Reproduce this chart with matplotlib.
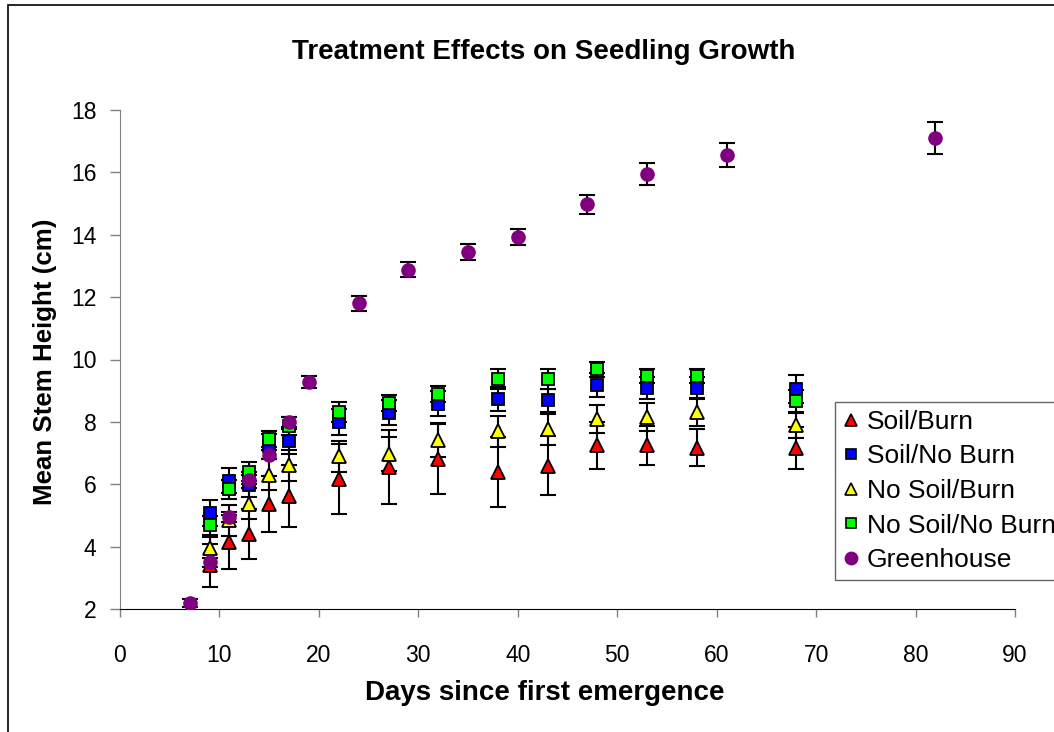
import matplotlib
matplotlib.use('Agg')
import matplotlib.pyplot as plt
from matplotlib.lines import Line2D
from matplotlib.patches import Rectangle

# ---------------- data ----------------
days_t = [9, 11, 13, 15, 17, 22, 27, 32, 38, 43, 48, 53, 58, 68]

soil_burn = [3.4, 4.15, 4.4, 5.38, 5.62, 6.18, 6.55, 6.82, 6.38, 6.6, 7.25, 7.25, 7.17, 7.17]
soil_burn_err = [0.7, 0.88, 0.8, 0.9, 1.0, 1.12, 1.18, 1.12, 1.12, 0.96, 0.75, 0.62, 0.6, 0.67]

soil_noburn = [5.07, 6.12, 5.98, 7.22, 7.38, 8.0, 8.29, 8.58, 8.74, 8.69, 9.18, 9.09, 9.09, 9.04]
soil_noburn_err = [0.42, 0.4, 0.4, 0.4, 0.4, 0.42, 0.4, 0.4, 0.38, 0.38, 0.38, 0.35, 0.35, 0.45]

nosoil_burn = [3.97, 4.85, 5.38, 6.3, 6.61, 6.89, 6.96, 7.41, 7.7, 7.76, 8.1, 8.17, 8.33, 7.89]
nosoil_burn_err = [0.35, 0.5, 0.5, 0.5, 0.5, 0.5, 0.55, 0.55, 0.5, 0.5, 0.45, 0.45, 0.45, 0.4]

nosoil_noburn = [4.68, 5.84, 6.4, 7.46, 7.87, 8.33, 8.61, 8.9, 9.39, 9.39, 9.68, 9.47, 9.47, 8.67]
nosoil_noburn_err = [0.3, 0.3, 0.3, 0.25, 0.3, 0.32, 0.25, 0.25, 0.32, 0.32, 0.23, 0.23, 0.23, 0.35]

days_g = [7, 9, 11, 13, 15, 17, 19, 24, 29, 35, 40, 47, 53, 61, 82]
greenhouse = [2.2, 3.5, 4.95, 6.15, 6.95, 8.0, 9.28, 11.8, 12.88, 13.45, 13.92, 14.97, 15.95, 16.55, 17.1]
greenhouse_err = [0.12, 0.15, 0.15, 0.15, 0.15, 0.15, 0.2, 0.25, 0.25, 0.25, 0.25, 0.3, 0.35, 0.38, 0.5]

labels = ['Soil/Burn', 'Soil/No Burn', 'No Soil/Burn', 'No Soil/No Burn', 'Greenhouse']
x_ticks = [0, 10, 20, 30, 40, 50, 60, 70, 80, 90]
y_ticks = [2, 4, 6, 8, 10, 12, 14, 16, 18]

# ---------------- figure ----------------
plt.rcParams['font.family'] = ['Liberation Sans', 'DejaVu Sans']
W, H = 1054, 732
fig = plt.figure(figsize=(W / 100, H / 100), dpi=100)
fig.patch.set_facecolor('white')

# outer chart border
fig.add_artist(Rectangle((8 / W, -0.05), 1.1, 1 - 5 / H + 0.05, transform=fig.transFigure,
                         fill=False, edgecolor='black', linewidth=1.2))

ax = fig.add_axes([120 / W, 1 - 609 / H, (1015 - 120) / W, (609 - 110) / H])

series = [
    (days_t, soil_burn, soil_burn_err, '^', 9.5, 'red', 'black'),
    (days_t, soil_noburn, soil_noburn_err, 's', 8, 'blue', 'black'),
    (days_t, nosoil_burn, nosoil_burn_err, '^', 9.5, 'yellow', 'black'),
    (days_t, nosoil_noburn, nosoil_noburn_err, 's', 8, '#00FF00', 'black'),
    (days_g, greenhouse, greenhouse_err, 'o', 9.2, '#800080', '#800080'),
]

handles = []
for i, (x, y, e, m, ms, fc, ec) in enumerate(series):
    ax.errorbar(x, y, yerr=e, fmt='none', ecolor='black', elinewidth=1.5,
                capsize=6, capthick=1.5, zorder=2 + i * 0.1)
for i, (x, y, e, m, ms, fc, ec) in enumerate(series):
    ax.plot(x, y, linestyle='none', marker=m, markersize=ms, markerfacecolor=fc,
            markeredgecolor=ec, markeredgewidth=1.3, zorder=3 + i)
    handles.append(Line2D([], [], linestyle='none', marker=m, markersize=ms * 0.95,
                          markerfacecolor=fc, markeredgecolor=ec, markeredgewidth=1.2))

ax.set_xlim(0, 90)
ax.set_ylim(2, 18)
ax.set_xticks(x_ticks)
ax.set_yticks(y_ticks)
ax.spines['top'].set_visible(False)
ax.spines['right'].set_visible(False)
ax.spines['left'].set_color('#808080')
ax.spines['bottom'].set_color('black')
ax.tick_params(axis='y', direction='out', length=7, width=1, color='#808080',
               labelsize=16.5, pad=10)
ax.tick_params(axis='x', direction='out', length=6, width=1, color='#808080',
               labelsize=16.5, pad=19)

fig.text(544 / W, 1 - 52 / H, 'Treatment Effects on Seedling Growth', ha='center', va='center',
         fontsize=20, fontweight='bold')
fig.text(545 / W, 1 - 693 / H, 'Days since first emergence', ha='center', va='center',
         fontsize=20, fontweight='bold')
fig.text(45 / W, 1 - 362 / H, 'Mean Stem Height (cm)', ha='center', va='center',
         rotation=90, fontsize=18.6, fontweight='bold')

leg = fig.legend(handles, labels, loc='upper left', bbox_to_anchor=(835 / W, 1 - 402 / H),
                 frameon=True, fancybox=False, edgecolor='#404040', fontsize=19,
                 borderaxespad=0, borderpad=0.3, labelspacing=0.4, handlelength=0.65,
                 handletextpad=0.25)
leg.get_frame().set_linewidth(1.0)

fig.savefig('out.png', dpi=100, facecolor='white')
